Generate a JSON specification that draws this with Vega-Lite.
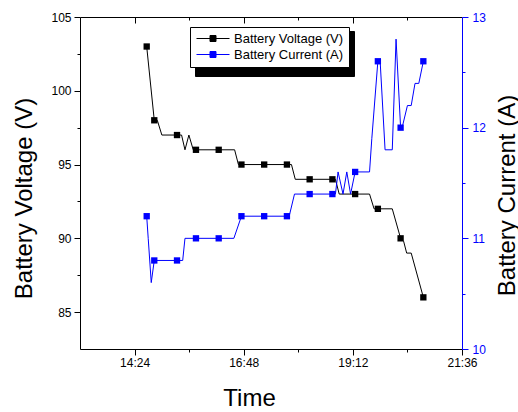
{
  "$schema": "https://vega.github.io/schema/vega-lite/v6.json",
  "width": 382,
  "height": 332,
  "autosize": {"type": "none"},
  "padding": {"left": 80, "top": 17, "right": 56, "bottom": 63},
  "background": "white",
  "config": {
    "font": "Liberation Sans",
    "view": {"stroke": null},
    "axis": {
      "grid": false,
      "labelFont": "Liberation Sans",
      "titleFont": "Liberation Sans",
      "titleFontWeight": "normal",
      "labelFontSize": 12,
      "labelColor": "#000000",
      "domainColor": "#000000",
      "tickColor": "#000000",
      "titleColor": "#000000",
      "domainWidth": 1,
      "tickWidth": 1,
      "labelFlush": false,
      "labelOverlap": false
    }
  },
  "datasets": {
    "voltage": [
      {"time": "2020-01-01T14:40:00", "voltage": 103},
      {"time": "2020-01-01T14:50:00", "voltage": 98},
      {"time": "2020-01-01T14:54:00", "voltage": 98},
      {"time": "2020-01-01T15:00:00", "voltage": 97},
      {"time": "2020-01-01T15:20:00", "voltage": 97},
      {"time": "2020-01-01T15:26:00", "voltage": 97},
      {"time": "2020-01-01T15:30:30", "voltage": 96},
      {"time": "2020-01-01T15:35:40", "voltage": 97},
      {"time": "2020-01-01T15:41:24", "voltage": 96},
      {"time": "2020-01-01T15:45:00", "voltage": 96},
      {"time": "2020-01-01T16:15:00", "voltage": 96},
      {"time": "2020-01-01T16:36:00", "voltage": 96},
      {"time": "2020-01-01T16:41:00", "voltage": 95},
      {"time": "2020-01-01T16:45:00", "voltage": 95},
      {"time": "2020-01-01T17:15:00", "voltage": 95},
      {"time": "2020-01-01T17:45:00", "voltage": 95},
      {"time": "2020-01-01T17:51:00", "voltage": 95},
      {"time": "2020-01-01T17:56:00", "voltage": 94},
      {"time": "2020-01-01T18:15:00", "voltage": 94},
      {"time": "2020-01-01T18:45:00", "voltage": 94},
      {"time": "2020-01-01T18:49:00", "voltage": 94},
      {"time": "2020-01-01T18:54:00", "voltage": 93},
      {"time": "2020-01-01T19:15:00", "voltage": 93},
      {"time": "2020-01-01T19:34:00", "voltage": 93},
      {"time": "2020-01-01T19:40:00", "voltage": 92},
      {"time": "2020-01-01T19:45:00", "voltage": 92},
      {"time": "2020-01-01T20:04:00", "voltage": 92},
      {"time": "2020-01-01T20:15:00", "voltage": 90},
      {"time": "2020-01-01T20:19:00", "voltage": 89.8},
      {"time": "2020-01-01T20:23:00", "voltage": 89},
      {"time": "2020-01-01T20:29:00", "voltage": 89},
      {"time": "2020-01-01T20:45:00", "voltage": 86}
    ],
    "voltageSamples": [
      {"time": "2020-01-01T14:40:00", "voltage": 103},
      {"time": "2020-01-01T14:50:00", "voltage": 98},
      {"time": "2020-01-01T15:20:00", "voltage": 97},
      {"time": "2020-01-01T15:45:00", "voltage": 96},
      {"time": "2020-01-01T16:15:00", "voltage": 96},
      {"time": "2020-01-01T16:45:00", "voltage": 95},
      {"time": "2020-01-01T17:15:00", "voltage": 95},
      {"time": "2020-01-01T17:45:00", "voltage": 95},
      {"time": "2020-01-01T18:15:00", "voltage": 94},
      {"time": "2020-01-01T18:45:00", "voltage": 94},
      {"time": "2020-01-01T19:15:00", "voltage": 93},
      {"time": "2020-01-01T19:45:00", "voltage": 92},
      {"time": "2020-01-01T20:15:00", "voltage": 90},
      {"time": "2020-01-01T20:45:00", "voltage": 86}
    ],
    "current": [
      {"time": "2020-01-01T14:40:00", "current": 11.2},
      {"time": "2020-01-01T14:42:00", "current": 11.0},
      {"time": "2020-01-01T14:46:00", "current": 10.6},
      {"time": "2020-01-01T14:50:00", "current": 10.8},
      {"time": "2020-01-01T15:20:00", "current": 10.8},
      {"time": "2020-01-01T15:27:30", "current": 10.8},
      {"time": "2020-01-01T15:30:30", "current": 11.0},
      {"time": "2020-01-01T15:45:00", "current": 11.0},
      {"time": "2020-01-01T16:15:00", "current": 11.0},
      {"time": "2020-01-01T16:35:00", "current": 11.0},
      {"time": "2020-01-01T16:45:00", "current": 11.2},
      {"time": "2020-01-01T17:15:00", "current": 11.2},
      {"time": "2020-01-01T17:45:00", "current": 11.2},
      {"time": "2020-01-01T17:48:00", "current": 11.2},
      {"time": "2020-01-01T17:55:00", "current": 11.4},
      {"time": "2020-01-01T18:15:00", "current": 11.4},
      {"time": "2020-01-01T18:45:00", "current": 11.4},
      {"time": "2020-01-01T18:49:00", "current": 11.4},
      {"time": "2020-01-01T18:52:30", "current": 11.6},
      {"time": "2020-01-01T18:59:00", "current": 11.4},
      {"time": "2020-01-01T19:04:00", "current": 11.6},
      {"time": "2020-01-01T19:09:00", "current": 11.4},
      {"time": "2020-01-01T19:15:00", "current": 11.6},
      {"time": "2020-01-01T19:34:00", "current": 11.6},
      {"time": "2020-01-01T19:37:00", "current": 11.9},
      {"time": "2020-01-01T19:45:00", "current": 12.6},
      {"time": "2020-01-01T19:48:00", "current": 12.6},
      {"time": "2020-01-01T19:54:30", "current": 11.8},
      {"time": "2020-01-01T20:04:00", "current": 11.8},
      {"time": "2020-01-01T20:09:00", "current": 12.8},
      {"time": "2020-01-01T20:15:00", "current": 12.0},
      {"time": "2020-01-01T20:17:00", "current": 12.0},
      {"time": "2020-01-01T20:24:00", "current": 12.2},
      {"time": "2020-01-01T20:29:00", "current": 12.2},
      {"time": "2020-01-01T20:34:00", "current": 12.4},
      {"time": "2020-01-01T20:39:00", "current": 12.4},
      {"time": "2020-01-01T20:45:00", "current": 12.6}
    ],
    "currentSamples": [
      {"time": "2020-01-01T14:40:00", "current": 11.2},
      {"time": "2020-01-01T14:50:00", "current": 10.8},
      {"time": "2020-01-01T15:20:00", "current": 10.8},
      {"time": "2020-01-01T15:45:00", "current": 11.0},
      {"time": "2020-01-01T16:15:00", "current": 11.0},
      {"time": "2020-01-01T16:45:00", "current": 11.2},
      {"time": "2020-01-01T17:15:00", "current": 11.2},
      {"time": "2020-01-01T17:45:00", "current": 11.2},
      {"time": "2020-01-01T18:15:00", "current": 11.4},
      {"time": "2020-01-01T18:45:00", "current": 11.4},
      {"time": "2020-01-01T19:15:00", "current": 11.6},
      {"time": "2020-01-01T19:45:00", "current": 12.6},
      {"time": "2020-01-01T20:15:00", "current": 12.0},
      {"time": "2020-01-01T20:45:00", "current": 12.6}
    ]
  },
  "layer": [
    {
      "layer": [
        {
          "data": {"name": "voltage"},
          "mark": {"type": "line", "strokeWidth": 1},
          "encoding": {
            "x": {
              "field": "time", "type": "temporal",
              "scale": {"domain": [
                {"year": 2020, "month": 1, "date": 1, "hours": 13, "minutes": 12},
                {"year": 2020, "month": 1, "date": 1, "hours": 21, "minutes": 36}
              ]},
              "axis": {
                "orient": "bottom",
                "values": [
                  {"year": 2020, "month": 1, "date": 1, "hours": 14, "minutes": 24},
                  {"year": 2020, "month": 1, "date": 1, "hours": 16, "minutes": 48},
                  {"year": 2020, "month": 1, "date": 1, "hours": 19, "minutes": 12},
                  {"year": 2020, "month": 1, "date": 1, "hours": 21, "minutes": 36}
                ],
                "format": "%H:%M",
                "tickSize": 6,
                "labelPadding": 2,
                "title": "Time",
                "titleFontSize": 24,
                "titleX": 169,
                "titleY": 56,
                "titleAlign": "center",
                "titleBaseline": "alphabetic"
              }
            },
            "y": {
              "field": "voltage", "type": "quantitative",
              "scale": {"domain": [82.5, 105], "nice": false, "zero": false},
              "axis": {
                "orient": "left",
                "values": [85, 90, 95, 100, 105],
                "tickSize": 6,
                "labelPadding": 3,
                "title": "Battery Voltage (V)",
                "titleFontSize": 24,
                "titleAngle": 270,
                "titleX": -49,
                "titleY": 181,
                "titleAlign": "center",
                "titleBaseline": "alphabetic"
              }
            },
            "color": {
              "datum": "Battery Voltage (V)",
              "scale": {"domain": ["Battery Voltage (V)", "Battery Current (A)"], "range": ["#000000", "#0000ff"]},
              "legend": {
                "orient": "none",
                "legendX": 110,
                "legendY": 10,
                "title": null,
                "direction": "vertical",
                "symbolType": "M-1,0H5.6M1.7,-0.6H2.9V0.6H1.7Z",
                "symbolSize": 100,
                "symbolStrokeWidth": 1,
                "labelFont": "Liberation Sans",
                "labelFontSize": 13,
                "labelColor": "#000000",
                "labelOffset": 26,
                "padding": 5,
                "rowPadding": 2,
                "strokeColor": "#000000",
                "fillColor": "#ffffff",
                "zindex": 2,
                "encode": {"symbols": {"update": {"fill": {"scale": "color", "field": "value"}, "stroke": {"scale": "color", "field": "value"}}}}
              }
            }
          }
        },
        {
          "data": {"name": "voltageSamples"},
          "mark": {"type": "point", "filled": true, "size": 40, "opacity": 1},
          "encoding": {
            "x": {
              "field": "time", "type": "temporal",
              "axis": {
                "orient": "bottom",
                "values": [
                  {"year": 2020, "month": 1, "date": 1, "hours": 15, "minutes": 36},
                  {"year": 2020, "month": 1, "date": 1, "hours": 18, "minutes": 0},
                  {"year": 2020, "month": 1, "date": 1, "hours": 20, "minutes": 24}
                ],
                "tickSize": 3,
                "labels": false,
                "domain": false,
                "title": null
              }
            },
            "y": {
              "field": "voltage", "type": "quantitative",
              "axis": {
                "orient": "left",
                "values": [87.5, 92.5, 97.5, 102.5],
                "tickSize": 3,
                "labels": false,
                "domain": false,
                "title": null
              }
            },
            "color": {"datum": "Battery Voltage (V)"},
            "shape": {
              "datum": "Battery Voltage (V)\u00a0",
              "scale": {"domain": ["Battery Voltage (V)\u00a0", "Battery Current (A)\u00a0"], "range": ["square", "square"]},
              "legend": {
                "orient": "none",
                "legendX": 115,
                "legendY": 14,
                "title": "S",
                "titleFontSize": 1,
                "titlePadding": 0,
                "titleColor": "#000000",
                "direction": "vertical",
                "symbolSize": 100,
                "symbolFillColor": "#000000",
                "symbolStrokeColor": "#000000",
                "labelFontSize": 13,
                "labelColor": "#000000",
                "labelOffset": 26,
                "padding": 5,
                "rowPadding": 2,
                "strokeColor": "#000000",
                "fillColor": "#000000",
                "zindex": 1
              }
            }
          }
        }
      ],
      "resolve": {"axis": {"x": "independent", "y": "independent"}}
    },
    {
      "layer": [
        {
          "data": {"name": "current"},
          "mark": {"type": "line", "strokeWidth": 1},
          "encoding": {
            "x": {
              "field": "time", "type": "temporal",
              "axis": {
                "orient": "top",
                "values": [
                  {"year": 2020, "month": 1, "date": 1, "hours": 14, "minutes": 24},
                  {"year": 2020, "month": 1, "date": 1, "hours": 16, "minutes": 48},
                  {"year": 2020, "month": 1, "date": 1, "hours": 19, "minutes": 12}
                ],
                "tickSize": -6,
                "labels": false,
                "domain": true,
                "title": null
              }
            },
            "y": {
              "field": "current", "type": "quantitative",
              "scale": {"domain": [10, 13], "nice": false, "zero": false},
              "axis": {
                "orient": "right",
                "values": [10, 11, 12, 13],
                "tickSize": 6,
                "labelPadding": 4,
                "labelColor": "#0000ff",
                "tickColor": "#0000ff",
                "domainColor": "#0000ff",
                "title": "Battery Current (A)",
                "titleFontSize": 24,
                "titleAngle": 270,
                "titleX": 52,
                "titleY": 178,
                "titleAlign": "center",
                "titleBaseline": "alphabetic"
              }
            },
            "color": {"datum": "Battery Current (A)"}
          }
        },
        {
          "data": {"name": "currentSamples"},
          "mark": {"type": "point", "filled": true, "size": 40, "opacity": 1},
          "encoding": {
            "x": {
              "field": "time", "type": "temporal",
              "axis": {
                "orient": "top",
                "values": [
                  {"year": 2020, "month": 1, "date": 1, "hours": 15, "minutes": 36},
                  {"year": 2020, "month": 1, "date": 1, "hours": 18, "minutes": 0},
                  {"year": 2020, "month": 1, "date": 1, "hours": 20, "minutes": 24}
                ],
                "tickSize": -3,
                "labels": false,
                "domain": false,
                "title": null
              }
            },
            "y": {
              "field": "current", "type": "quantitative",
              "axis": {
                "orient": "right",
                "values": [10.5, 11.5, 12.5],
                "tickSize": 3,
                "tickColor": "#0000ff",
                "labels": false,
                "domain": false,
                "title": null
              }
            },
            "color": {"datum": "Battery Current (A)"},
            "shape": {"datum": "Battery Current (A)\u00a0"}
          }
        }
      ],
      "resolve": {"axis": {"x": "independent", "y": "independent"}}
    }
  ],
  "resolve": {"scale": {"y": "independent"}, "axis": {"x": "independent", "y": "independent"}}
}
